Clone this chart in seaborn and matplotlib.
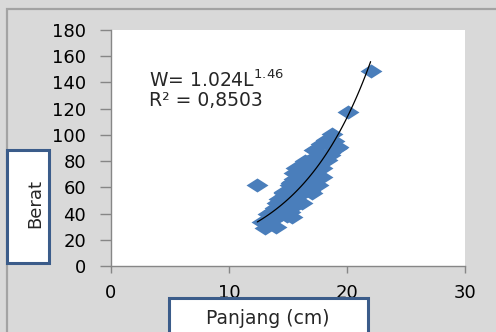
import matplotlib
matplotlib.use("Agg")
import matplotlib.pyplot as plt
from matplotlib.patches import Rectangle
from matplotlib.path import Path
import numpy as np
import pandas as pd
import seaborn as sns

# fish length (cm) and weight
panjang = [12.4, 22.0, 20.1, 18.7, 18.9, 19.2, 18.2, 18.5, 17.8, 17.3,
           17.9, 16.9, 16.6, 17.9, 16.4, 15.7, 17.5, 16.0, 17.0, 16.5,
           15.3, 14.7, 16.0, 15.0, 15.7, 14.3, 13.9, 14.6, 15.2, 14.0,
           13.3, 13.5, 12.8, 13.05, 14.7, 15.2, 16.3, 15.5, 17.2, 18.6,
           14.5, 13.8, 15.8, 16.8, 17.6, 14.2, 15.0, 13.7, 14.1, 14.9,
           15.4, 15.9, 16.2, 16.6, 17.3, 17.8, 16.8, 15.3, 14.4, 13.5,
           14.9, 16.9, 17.2, 15.5, 15.25, 14.15, 13.1, 16.4, 14.7, 13.65,
           19.15, 18.3, 17.9, 17.0, 16.2, 15.3, 14.0, 18.6, 17.5]
berat = [62, 149, 117.5, 100.5, 95, 91, 96, 92, 93, 88.5,
         82.4, 81, 79, 75, 73, 75, 68.6, 67, 64, 59.5,
         59.5, 56.4, 54, 50, 46.5, 46.5, 44, 46.5, 41, 36.6,
         39.7, 32, 33.6, 29, 53.4, 61.8, 62, 66, 72, 85,
         40, 38, 57, 69, 78, 51, 45, 42, 48, 52,
         55, 62, 70, 66, 77, 85, 78, 64, 43, 36,
         38, 57, 88.5, 71, 63, 48, 33, 80, 56, 40.5,
         90, 81, 68, 55.7, 48, 37.4, 29.7, 86, 62]

x_ticks = [0, 10, 20, 30]
y_ticks = list(range(0, 181, 20))
eq_text = "W= 1.024L$^{1.46}$"
r2_text = "R² = 0,8503"

df = pd.DataFrame({"Panjang": panjang, "Berat": berat})

sns.set_style("white")
plt.rcParams["font.family"] = ["DejaVu Sans"]
plt.rcParams["mathtext.default"] = "regular"

fig = plt.figure(figsize=(4.96, 3.32), dpi=100)
fig.patch.set_facecolor("#d9d9d9")
ax = fig.add_axes([111 / 496, 66 / 332, 354 / 496, 236 / 332])
ax.set_facecolor("white")

# outer chart frame
fig.patches.append(Rectangle((7 / 496, -0.2), 1.2, 1.2 - 9 / 332, transform=fig.transFigure,
                             fill=False, edgecolor="#a3a3a3", lw=1.6, zorder=0))

# flat diamond like the excel marker
diamond = Path([(-1, 0), (0, 0.64), (1, 0), (0, -0.64), (-1, 0)],
               [Path.MOVETO, Path.LINETO, Path.LINETO, Path.LINETO, Path.CLOSEPOLY])

sns.scatterplot(data=df, x="Panjang", y="Berat", marker=diamond, s=250,
                color="#4a7ebb", linewidth=0, ax=ax, zorder=2)

# trendline (exponential fit on the points)
k, log_c = np.polyfit(df["Panjang"], np.log(df["Berat"]), 1)
xs = np.linspace(df["Panjang"].min(), df["Panjang"].max(), 100)
ax.plot(xs, np.exp(log_c + k * xs), color="black", lw=0.9, zorder=3)

ax.set_xlim(0, 30)
ax.set_ylim(0, 180)
ax.set_xticks(x_ticks)
ax.set_yticks(y_ticks)
ax.set_xlabel("")
ax.set_ylabel("")
for side in ["top", "right"]:
    ax.spines[side].set_visible(False)
for side in ["left", "bottom"]:
    ax.spines[side].set_color("#868686")
    ax.spines[side].set_linewidth(1.0)
ax.tick_params(axis="y", direction="out", length=8, width=1, color="#868686",
               pad=10, labelsize=13, labelcolor="black", left=True)
ax.tick_params(axis="x", direction="out", length=5, width=1, color="#868686",
               pad=8, labelsize=13, labelcolor="black", bottom=True)

ax.text((149 - 111) / 354, 1 - (80 - 30) / 236, eq_text, transform=ax.transAxes,
        fontsize=13.5, va="center", ha="left")
ax.text((149 - 111) / 354, 1 - (101 - 30) / 236, r2_text, transform=ax.transAxes,
        fontsize=13.5, va="center", ha="left")

# axis title boxes
box_col = "#3b5c8a"
fig.patches.append(Rectangle((7 / 496, 69 / 332), 42 / 496, 113 / 332, transform=fig.transFigure,
                             facecolor="white", edgecolor=box_col, lw=2.2, zorder=4))
fig.text(35 / 496, 1 - 204 / 332, "Berat", rotation=90, ha="center", va="center",
         fontsize=13, zorder=5)
fig.patches.append(Rectangle((169 / 496, -10 / 332), 199 / 496, 44 / 332, transform=fig.transFigure,
                             facecolor="white", edgecolor=box_col, lw=2.2, zorder=4))
fig.text(268 / 496, 1 - 318 / 332, "Panjang (cm)", ha="center", va="center",
         fontsize=13.5, zorder=5)

fig.savefig("out.png", dpi=100, facecolor=fig.get_facecolor())
